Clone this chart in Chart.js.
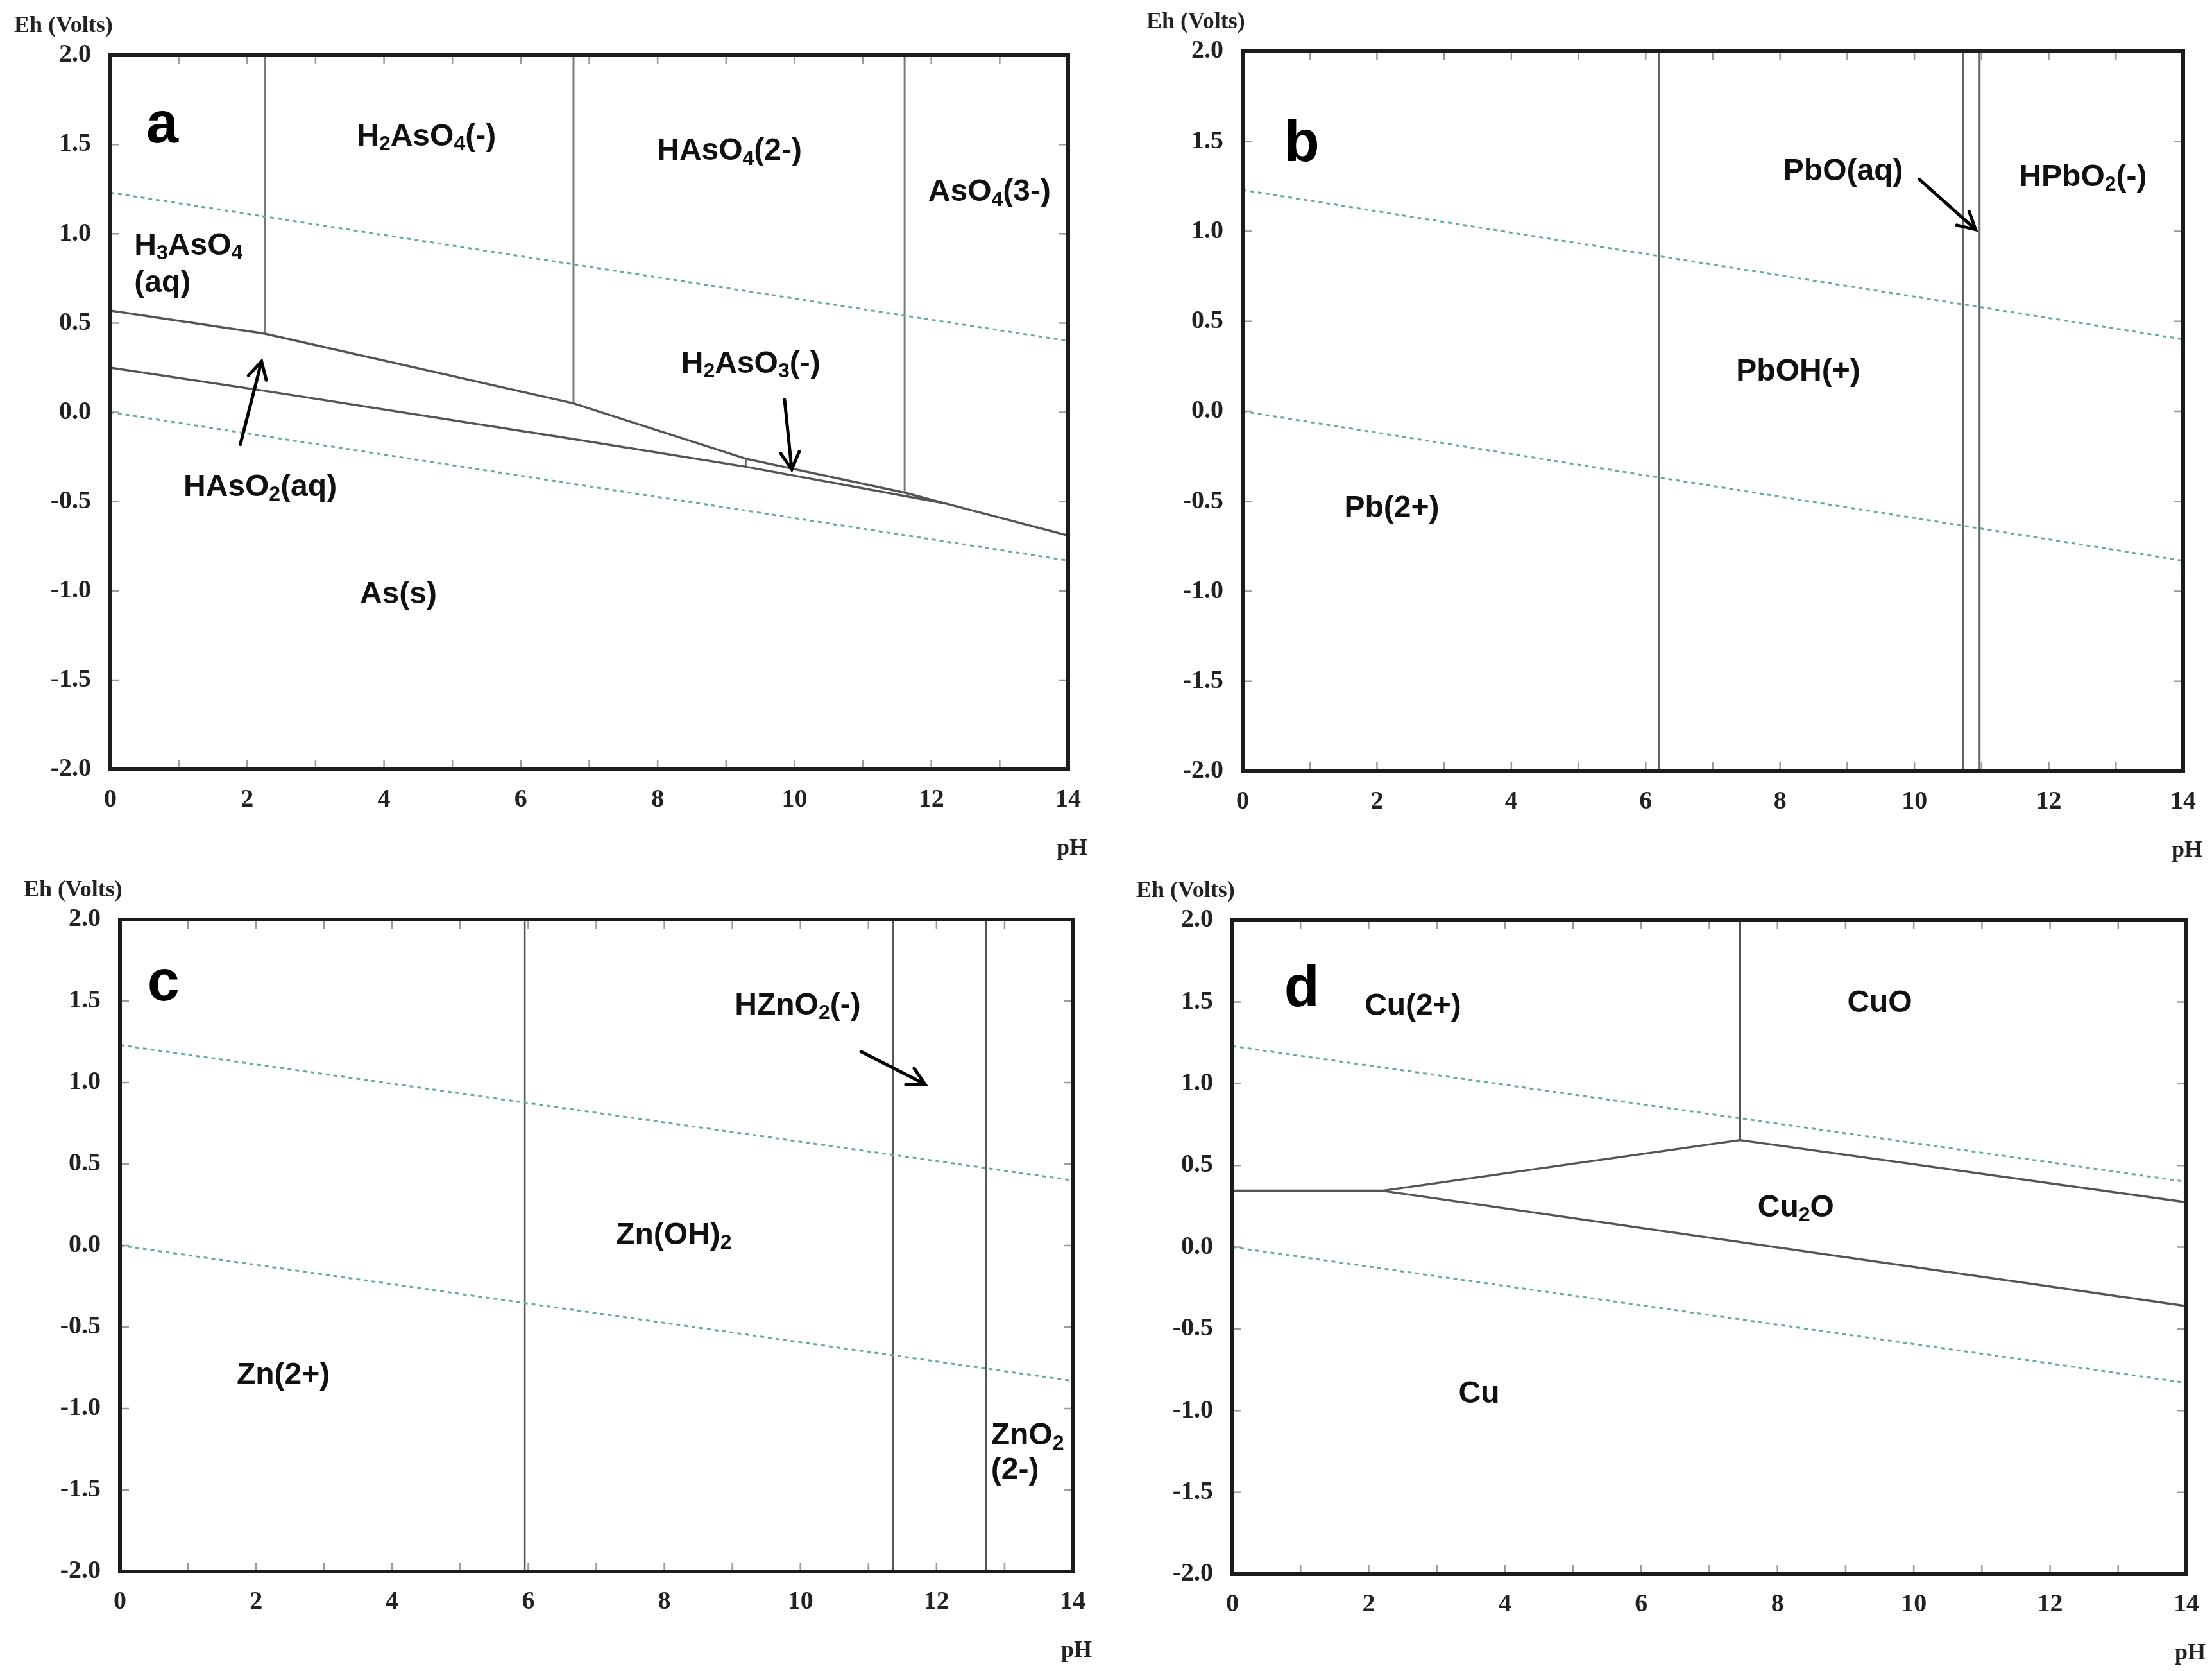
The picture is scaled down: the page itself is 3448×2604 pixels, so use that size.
<!DOCTYPE html>
<html>
<head>
<meta charset="utf-8">
<script src="https://cdn.jsdelivr.net/npm/chart.js@4.4.1/dist/chart.umd.min.js"></script>
<style>
  html, body { margin: 0; padding: 0; background: #fff; }
  #page { position: relative; width: 3448px; height: 2604px; }
  canvas { position: absolute; }
</style>
</head>
<body>
<div id="page">
  <canvas id="pa" width="1740" height="1350" style="left:0;top:0"></canvas>
  <canvas id="pb" width="1708" height="1350" style="left:1740px;top:0"></canvas>
  <canvas id="pc" width="1740" height="1254" style="left:0;top:1350px"></canvas>
  <canvas id="pd" width="1708" height="1254" style="left:1740px;top:1350px"></canvas>
</div>
<script>
// water stability limits (pH, Eh)
const waterUpper = [[0, 1.23], [14, 0.40]]
const waterLower = [[0, 0], [14, -0.83]]

// a: arsenic
const asUpper = [[0, 0.57], [2.26, 0.44], [6.77, 0.05], [9.29, -0.26], [11.61, -0.45], [12.2, -0.51], [14, -0.69]]
const asLower = [[0, 0.25], [2.26, 0.12], [6.77, -0.15], [9.29, -0.305], [12.2, -0.51]]
const asVerticals = [[2.26, 0.44], [6.77, 0.05], [11.61, -0.45]]
const asSmall = [[9.29, -0.305], [9.29, -0.26]]
const asLabels = [
  ['H_2AsO_4(-)', 4.62, 1.54],
  ['HAsO_4(2-)', 9.05, 1.46],
  ['AsO_4(3-)', 12.85, 1.23],
  ['H_3AsO_4', 0.35, 0.93, 'left'],
  ['(aq)', 0.35, 0.72, 'left'],
  ['H_2AsO_3(-)', 9.36, 0.27],
  ['HAsO_2(aq)', 2.19, -0.42],
  ['As(s)', 4.21, -1.02]
]
const asArrows = [[1.90, -0.18, 2.21, 0.285], [9.855, 0.07, 9.96, -0.32]]

// b: lead
const pbVerticals = [6.2, 10.72, 10.97]
const pbLabels = [
  ['PbO(aq)', 8.94, 1.33],
  ['HPbO_2(-)', 12.51, 1.30],
  ['PbOH(+)', 8.27, 0.22],
  ['Pb(2+)', 2.22, -0.54]
]
const pbArrows = [[10.07, 1.29, 10.91, 1.01]]

// c: zinc
const znVerticals = [5.95, 11.36, 12.73]
const znLabels = [
  ['HZnO_2(-)', 9.96, 1.47],
  ['Zn(OH)_2', 8.14, 0.06],
  ['Zn(2+)', 2.40, -0.80],
  ['ZnO_2', 12.80, -1.17, 'left'],
  ['(2-)', 12.80, -1.38, 'left']
]
const znArrows = [[10.89, 1.19, 11.83, 0.99]]

// d: copper
const cuLines = [
  [[0, 0.345], [2.2, 0.345]],
  [[2.2, 0.345], [7.45, 0.655]],
  [[7.45, 0.655], [14, 0.275]],
  [[2.2, 0.345], [14, -0.36]],
  [[7.45, 0.655], [7.45, 2.0]]
]
const cuLabels = [
  ['Cu(2+)', 2.65, 1.47],
  ['CuO', 9.50, 1.49],
  ['Cu_2O', 8.27, 0.24],
  ['Cu', 3.62, -0.90]
]

const serif = '"Liberation Serif", "DejaVu Serif", serif'
const sans = '"Liberation Sans", Arial, sans-serif'

function line(points, color, width, dash) {
  return {
    data: points.map(([x, y]) => ({x, y})),
    showLine: true,
    borderColor: color,
    borderWidth: width,
    borderDash: dash || [],
    pointRadius: 0,
    fill: false
  }
}

function water() {
  return [line(waterUpper, '#63aaa5', 3, [6, 6]), line(waterLower, '#63aaa5', 3, [6, 6])]
}

function chemText(ctx, text, px, py, size, align) {
  const parts = []
  for (let i = 0; i < text.length; i++) {
    if (text[i] === '_') { parts.push([text[i + 1], true]); i++ }
    else parts.push([text[i], false])
  }
  const big = 'bold ' + size + 'px ' + sans
  const small = 'bold ' + Math.round(size * 0.66) + 'px ' + sans
  let w = 0
  parts.forEach(([c, sub]) => { ctx.font = sub ? small : big; w += ctx.measureText(c).width })
  let x = align === 'left' ? px : px - w / 2
  ctx.textAlign = 'left'
  ctx.textBaseline = 'middle'
  parts.forEach(([c, sub]) => {
    ctx.font = sub ? small : big
    ctx.fillText(c, x, sub ? py + size * 0.24 : py)
    x += ctx.measureText(c).width
  })
}

const decor = {
  id: 'decor',
  afterDatasetsDraw(chart, args, o) {
    const {ctx, chartArea: a, scales: {x, y}} = chart
    ctx.save()

    // inward tick marks on all four sides
    ctx.strokeStyle = '#9a9a9a'
    ctx.lineWidth = 2.5
    ctx.beginPath()
    x.ticks.forEach(t => {
      const px = x.getPixelForValue(t.value)
      ctx.moveTo(px, a.bottom); ctx.lineTo(px, a.bottom - 14)
      ctx.moveTo(px, a.top); ctx.lineTo(px, a.top + 14)
    })
    y.ticks.forEach(t => {
      const py = y.getPixelForValue(t.value)
      ctx.moveTo(a.left, py); ctx.lineTo(a.left + 14, py)
      ctx.moveTo(a.right, py); ctx.lineTo(a.right - 14, py)
    })
    ctx.stroke()

    // frame
    ctx.strokeStyle = '#1c1c1c'
    ctx.lineWidth = 6
    ctx.strokeRect(a.left, a.top, a.right - a.left, a.bottom - a.top)

    // axis titles
    ctx.fillStyle = '#222'
    ctx.font = 'bold 36px ' + serif
    ctx.textBaseline = 'middle'
    ctx.textAlign = 'left'
    ctx.fillText('Eh (Volts)', a.left - 150, a.top - 45)
    ctx.textAlign = 'center'
    ctx.fillText('pH', a.right + 6, a.bottom + 124)

    // panel letter
    ctx.fillStyle = '#000'
    ctx.font = 'bold 90px ' + sans
    ctx.textAlign = 'center'
    ctx.fillText(o.letter[0], x.getPixelForValue(o.letter[1]), y.getPixelForValue(o.letter[2]))

    // field labels
    ctx.fillStyle = '#111'
    o.labels.forEach(([t, ph, eh, align]) => {
      chemText(ctx, t, x.getPixelForValue(ph), y.getPixelForValue(eh), 48, align)
    })

    // arrows
    ctx.strokeStyle = '#000'
    ctx.lineWidth = 5
    ctx.lineCap = 'round'
    ;(o.arrows || []).forEach(([x0, y0, x1, y1]) => {
      const ax = x.getPixelForValue(x0), ay = y.getPixelForValue(y0)
      const bx = x.getPixelForValue(x1), by = y.getPixelForValue(y1)
      const ang = Math.atan2(by - ay, bx - ax)
      ctx.beginPath()
      ctx.moveTo(ax, ay); ctx.lineTo(bx, by)
      ctx.moveTo(bx - 30 * Math.cos(ang - 0.5), by - 30 * Math.sin(ang - 0.5))
      ctx.lineTo(bx, by)
      ctx.lineTo(bx - 30 * Math.cos(ang + 0.5), by - 30 * Math.sin(ang + 0.5))
      ctx.stroke()
    })
    ctx.restore()
  }
}

function panel(id, pad, datasets, letter, labels, arrows) {
  const tickFont = {family: serif, weight: 'bold', size: 40}
  new Chart(document.getElementById(id), {
    type: 'scatter',
    data: {datasets},
    plugins: [decor],
    options: {
      responsive: false,
      animation: false,
      layout: {padding: pad},
      plugins: {
        legend: {display: false},
        tooltip: {enabled: false},
        decor: {letter, labels, arrows}
      },
      scales: {
        x: {
          type: 'linear', min: 0, max: 14,
          grid: {display: false}, border: {display: false},
          ticks: {
            stepSize: 1, autoSkip: false, maxRotation: 0, padding: 16,
            font: tickFont, color: '#222',
            callback: v => (v % 2 === 0 ? String(v) : '')
          },
          afterFit: s => { s.height = 100 }
        },
        y: {
          type: 'linear', min: -2, max: 2,
          grid: {display: false}, border: {display: false},
          ticks: {
            stepSize: 0.5, padding: 22, font: tickFont, color: '#222',
            callback: v => v.toFixed(1)
          },
          afterFit: s => { s.width = 130 }
        }
      }
    }
  })
}

// a
panel('pa', {left: 42, right: 75, top: 86, bottom: 51}, [
  ...water(),
  line(asUpper, '#555', 3.5),
  line(asLower, '#555', 3.5),
  ...asVerticals.map(([ph, eh]) => line([[ph, eh], [ph, 2]], '#7a7a7a', 3)),
  line(asSmall, '#555', 2)
], ['a', 0.76, 1.60], asLabels, asArrows)

// b
panel('pb', {left: 67, right: 45, top: 80, bottom: 48}, [
  ...water(),
  ...pbVerticals.map(ph => line([[ph, -2], [ph, 2]], '#666', 3))
], ['b', 0.88, 1.48], pbLabels, pbArrows)

// c
panel('pc', {left: 57, right: 68, top: 83, bottom: 55}, [
  ...water(),
  ...znVerticals.map(ph => line([[ph, -2], [ph, 2]], '#555', 2.5))
], ['c', 0.64, 1.60], znLabels, znArrows)

// d
panel('pd', {left: 51, right: 40, top: 84, bottom: 51}, [
  ...water(),
  ...cuLines.map(pts => line(pts, '#555', 3.5))
], ['d', 1.02, 1.57], cuLabels, [])
</script>
</body>
</html>
